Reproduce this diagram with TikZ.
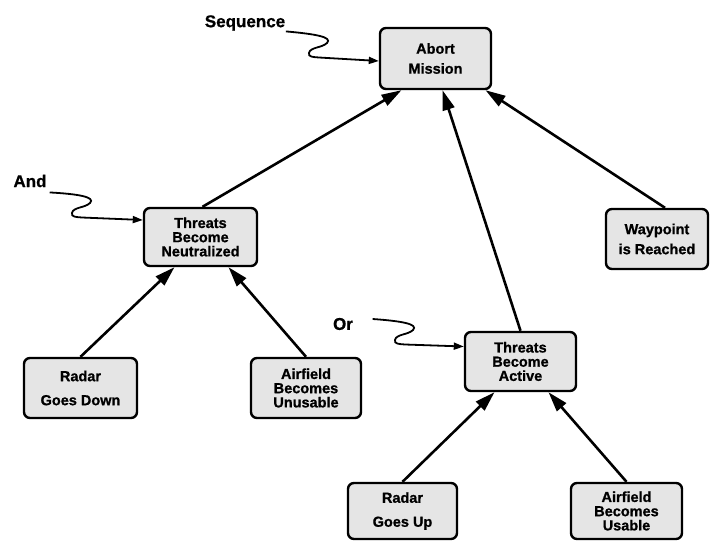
\documentclass[tikz,border=0pt]{standalone}
\usepackage{fontspec}
\setmainfont{Liberation Sans}
\newfontfamily\heavy{Liberation Sans Bold}[FakeBold=0.9]
\usetikzlibrary{arrows.meta}
\begin{document}
\begin{tikzpicture}[x=1pt,y=-1pt,
  event/.style={draw, line width=2.4pt, rounded corners=6pt, fill=black!10,
                align=center, inner sep=0pt},
  tight/.style={font=\heavy\fontsize{14.5}{14.2}\selectfont},
  loose/.style={font=\heavy\fontsize{14.5}{20}\selectfont},
  wide/.style={font=\heavy\fontsize{14.5}{24}\selectfont},
  tag/.style={font=\heavy\fontsize{17}{20}\selectfont, inner sep=0.5pt},
  link/.style={line width=2.6pt, -{Triangle[length=20pt,width=12pt]}},
  squig/.style={line width=1.8pt, -{Triangle[length=10pt,width=7pt]}}]
\useasboundingbox (0,0) rectangle (710,543);

% events
\node[event, loose, minimum width=111pt, minimum height=61pt] (abt) at (435.5,58.5) {Abort\\Mission};
\node[event, tight, minimum width=113pt, minimum height=58pt] (neu) at (200.5,237) {Threats\\Become\\Neutralized};
\node[event, loose, minimum width=102pt, minimum height=60pt] (wpt) at (657,239) {Waypoint\\is Reached};
\node[event, tight, minimum width=111pt, minimum height=59pt] (act) at (520.5,361.5) {Threats\\Become\\Active};
\node[event, wide, minimum width=113pt, minimum height=60pt] (rgd) at (80.5,388) {Radar\\Goes Down};
\node[event, tight, minimum width=110pt, minimum height=60pt] (aun) at (306,388) {Airfield\\Becomes\\Unusable};
\node[event, wide, minimum width=109pt, minimum height=56pt] (rgu) at (402.5,511) {Radar\\Goes Up};
\node[event, tight, minimum width=111pt, minimum height=56pt] (aus) at (626.5,511) {Airfield\\Becomes\\Usable};

% combination labels
\node[tag] (seq) at (245,23) {Sequence};
\node[tag] (and) at (30,181) {And};
\node[tag] (or)  at (343,324) {Or};

% links between events
\draw[link] (rgd.north) -- ([xshift=-26pt]neu.south);
\draw[link] (aun.north) -- ([xshift=28pt]neu.south);
\draw[link] (rgu.north) -- ([xshift=-26pt]act.south);
\draw[link] (aus.north) -- ([xshift=28pt]act.south);
\draw[link] ([xshift=2pt]neu.north) -- ([xshift=-34pt]abt.south);
\draw[link] (act.north) -- ([xshift=7pt]abt.south);
\draw[link] ([xshift=8pt]wpt.north) -- ([xshift=50pt]abt.south);

% wavy pointers from the labels
\draw[squig] (seq.south east) .. controls (315,34) and (333,37) .. (327,43)
  .. controls (322,48) and (310,47) .. (309,53)
  .. controls (308,57) and (313,57) .. (319,57.5) -- ([yshift=-2.5pt]abt.west);
\draw[squig] ([xshift=2.5pt,yshift=-4.5pt]and.south east) .. controls (78,194) and (96,197) .. (90,203)
  .. controls (85,208) and (73,207) .. (72,213)
  .. controls (71,217) and (76,217) .. (82,217.5) -- ([yshift=17pt]neu.west);
\draw[squig] ([xshift=19pt,yshift=5pt]or.east) .. controls (401,321) and (419,324) .. (413,330)
  .. controls (408,335) and (396,334) .. (395,340)
  .. controls (394,344) and (399,344) .. (405,344.5) -- ([yshift=15pt]act.west);
\end{tikzpicture}
\end{document}
